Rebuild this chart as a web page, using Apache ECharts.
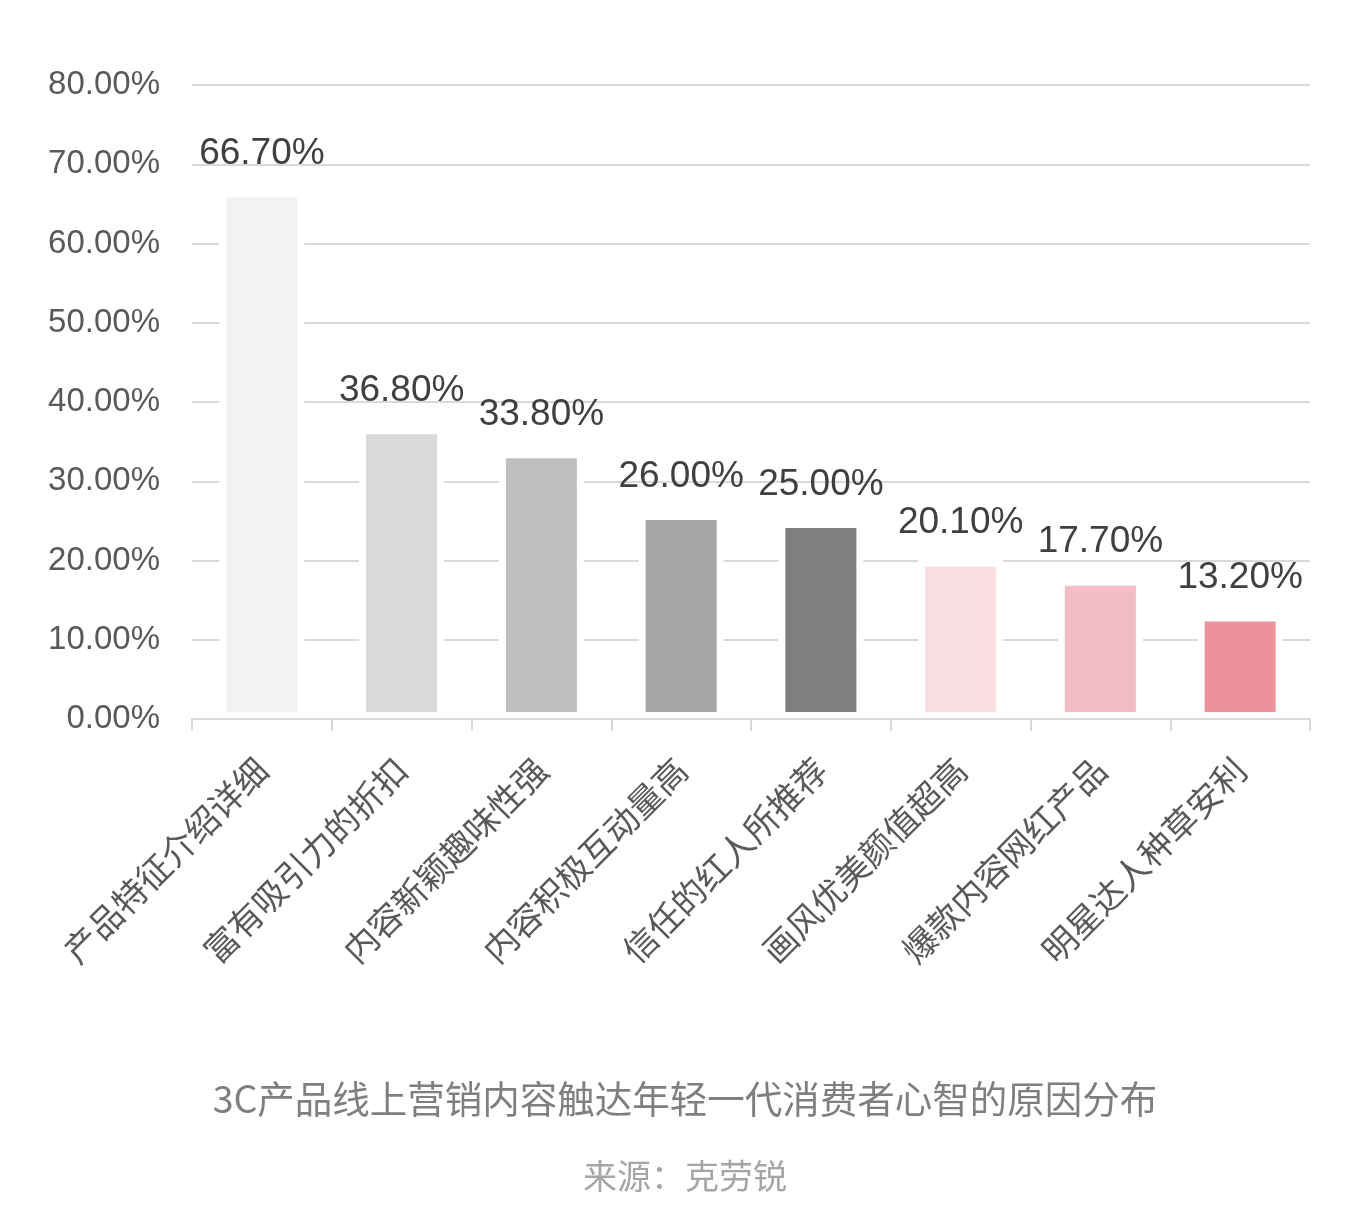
<html>
<head>
    <meta charset="utf-8">
    <script src="https://cdn.jsdelivr.net/npm/echarts@6/dist/echarts.min.js"></script>
    <style>
        body { margin: 0; background: #fff; }
    </style>
</head>
<body>
<div id="main" style="width: 1370px;height:1218px;"></div>
</body>
<script type="text/javascript">
    // 数据
    var names = ['产品特征介绍详细', '富有吸引力的折扣', '内容新颖趣味性强', '内容积极互动量高',
        '信任的红人所推荐', '画风优美颜值超高', '爆款内容网红产品', '明星达人种草安利'];
    var num = [66.7, 36.8, 33.8, 26.0, 25.0, 20.1, 17.7, 13.2];
    var colors = ['#f2f2f2', '#d9d9d9', '#bfbfbf', '#a6a6a6', '#7f7f7f', '#f9dde1', '#f4bcc4', '#ed929c'];
    var yTicks = [0, 10, 20, 30, 40, 50, 60, 70, 80];

    var font = '"Liberation Sans", Arial, "Noto Sans CJK SC", sans-serif';
    var cjk = '"Noto Sans CJK SC", "Liberation Sans", sans-serif';

    var myChart = echarts.init(document.getElementById('main'));

    var option = {
        backgroundColor: '#fff',
        animation: false,
        title: [{
            text: '3C产品线上营销内容触达年轻一代消费者心智的原因分布',
            left: 'center',
            top: 1075,
            textStyle: { fontFamily: cjk, fontSize: 37.5, fontWeight: 'normal', color: '#7f7f7f' }
        }, {
            text: '来源：克劳锐',
            left: 'center',
            top: 1154,
            textStyle: { fontFamily: cjk, fontSize: 34, fontWeight: 'normal', color: '#a6a6a6' }
        }],
        grid: { left: 192, right: 60, top: 85, bottom: 499, containLabel: false },
        xAxis: {
            type: 'category',
            data: names,
            z: 5,
            axisLine: { lineStyle: { color: '#d9d9d9', width: 2 } },
            axisTick: { show: true, length: 12, lineStyle: { color: '#d9d9d9', width: 2 } },
            axisLabel: {
                rotate: 45, margin: 45, interval: 0,
                fontFamily: cjk, fontSize: 34, color: '#595959'
            }
        },
        yAxis: {
            type: 'value',
            min: yTicks[0],
            max: yTicks[yTicks.length - 1],
            interval: 10,
            axisLine: { show: false },
            axisTick: { show: false },
            splitLine: { lineStyle: { color: '#d9d9d9', width: 2 } },
            axisLabel: {
                margin: 32, fontFamily: font, fontSize: 33, color: '#595959',
                formatter: function (v) { return v.toFixed(2) + '%'; }
            }
        },
        series: [{
            type: 'bar',
            barWidth: 85,
            data: num.map(function (v, i) {
                return { value: v, itemStyle: { color: colors[i] } };
            }),
            itemStyle: { borderColor: '#fff', borderWidth: 7 },
            label: {
                show: true, position: 'top', distance: 18,
                fontFamily: font, fontSize: 37, color: '#404040',
                formatter: function (p) { return p.value.toFixed(2) + '%'; }
            }
        }]
    };

    myChart.setOption(option);
</script>
</html>
